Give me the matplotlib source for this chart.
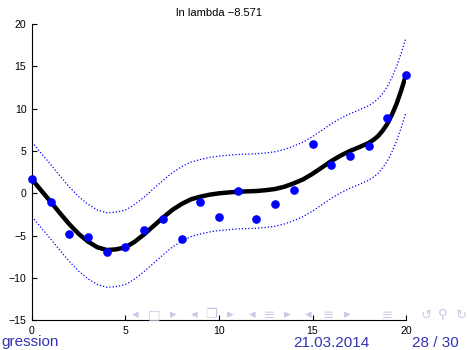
import numpy as np
import matplotlib
matplotlib.use("Agg")
import matplotlib.pyplot as plt

plt.rcParams['font.family'] = ['Liberation Sans', 'DejaVu Sans']

# ---------------------------
# data
# ---------------------------
x_obs = list(range(21))
y_obs = [1.65, -1.06, -4.84, -5.12, -6.97, -6.38, -4.33, -3.07, -5.43, -1.06, -2.8,
         0.25, -3.07, -1.23, 0.35, 5.82, 3.3, 4.44, 5.55, 8.86, 13.97]

x_fit = [0, 0.5, 1, 1.5, 2, 2.5, 3, 3.5, 4, 4.5,
         5, 5.5, 6, 6.5, 7, 7.5, 8, 8.5, 9, 9.5,
         10, 10.5, 11, 11.5, 12, 12.5, 13, 13.5, 14, 14.5,
         15, 15.5, 16, 16.5, 17, 17.5, 18, 18.25, 18.5, 18.75,
         19, 19.25, 19.5, 19.75, 20]
y_fit = [1.65, 0.31, -1.0, -2.36, -3.66, -4.8, -5.71, -6.38, -6.7, -6.62,
         -6.38, -5.71, -4.84, -3.86, -2.88, -1.97, -1.26, -0.71, -0.4, -0.16,
         0.0, 0.1, 0.19, 0.23, 0.27, 0.37, 0.51, 0.78, 1.18, 1.65,
         2.3, 3.05, 3.8, 4.45, 5.0, 5.45, 5.95, 6.3, 6.75, 7.4,
         8.2, 9.3, 10.6, 12.2, 13.97]
y_upper = [6.05, 4.71, 3.4, 2.04, 0.74, -0.4, -1.31, -1.98, -2.3, -2.22,
           -1.98, -1.31, -0.44, 0.54, 1.52, 2.43, 3.14, 3.69, 4.0, 4.24,
           4.4, 4.5, 4.59, 4.63, 4.67, 4.77, 4.91, 5.18, 5.58, 6.05,
           6.7, 7.45, 8.2, 8.85, 9.4, 9.85, 10.35, 10.7, 11.15, 11.8,
           12.6, 13.7, 15.0, 16.6, 18.37]
y_lower = [-2.75, -4.09, -5.4, -6.76, -8.06, -9.2, -10.11, -10.78, -11.1, -11.02,
           -10.78, -10.11, -9.24, -8.26, -7.28, -6.37, -5.66, -5.11, -4.8, -4.56,
           -4.4, -4.3, -4.21, -4.17, -4.13, -4.03, -3.89, -3.62, -3.22, -2.75,
           -2.1, -1.35, -0.6, 0.05, 0.6, 1.05, 1.55, 1.9, 2.35, 3.0,
           3.8, 4.9, 6.2, 7.8, 9.57]

x_ticks = [0, 5, 10, 15, 20]
y_ticks = [-15, -10, -5, 0, 5, 10, 15, 20]
title = "ln lambda \u22128.571"

# ---------------------------
# plot
# ---------------------------
fig = plt.figure(figsize=(4.67, 3.5), dpi=100)
ax = fig.add_axes([0.0685, 0.0849, 0.8009, 0.8465])

ax.plot(x_fit, y_upper, color='#0000ff', lw=0.9, ls=(0, (1, 1.6)))
ax.plot(x_fit, y_lower, color='#0000ff', lw=0.9, ls=(0, (1, 1.6)))
ax.plot(x_fit, y_fit, color='black', lw=3.2, solid_capstyle='round', solid_joinstyle='round')
ax.plot(x_obs, y_obs, 'o', color='#0000ff', ms=5.2, mec='#0000ff', clip_on=False, zorder=5)

ax.set_xlim(0, 20)
ax.set_ylim(-15, 20)
ax.set_xticks(x_ticks)
ax.set_yticks(y_ticks)
ax.tick_params(direction='in', length=3.5, width=0.8, labelsize=7.6, pad=4)
for s in ['top', 'right']:
    ax.spines[s].set_visible(False)
for s in ['left', 'bottom']:
    ax.spines[s].set_linewidth(0.8)
ax.set_title(title, fontsize=8, pad=6)

# beamer footer
blue = '#3333b3'
fig.text(0.002, 0.0114, "gression", color=blue, fontsize=11, ha='left', va='baseline')
fig.text(293 / 467, 0.0095, "21.03.2014", color=blue, fontsize=11, ha='left', va='baseline')
fig.text(412 / 467, 0.0095, "28 / 30", color=blue, fontsize=11, ha='left', va='baseline')

nav = [(135, '\u25c2'), (154, '\u25a1'), (173, '\u25b8'),
       (194, '\u25c2'), (211, '\u2750'), (230, '\u25b8'),
       (252, '\u25c2'), (269, '\u2261'), (287, '\u25b8'),
       (308, '\u25c2'), (328, '\u2261'), (347, '\u25b8'),
       (387, '\u2261'), (426, '\u21ba'), (443, '\u26b2'), (461, '\u21bb')]
for px, ch in nav:
    fig.text(px / 467, 1 - 315 / 350, ch, color='#c8c8e8', fontsize=9.5,
             ha='center', va='center', family=['DejaVu Sans'])

fig.savefig("out.png", dpi=100)
